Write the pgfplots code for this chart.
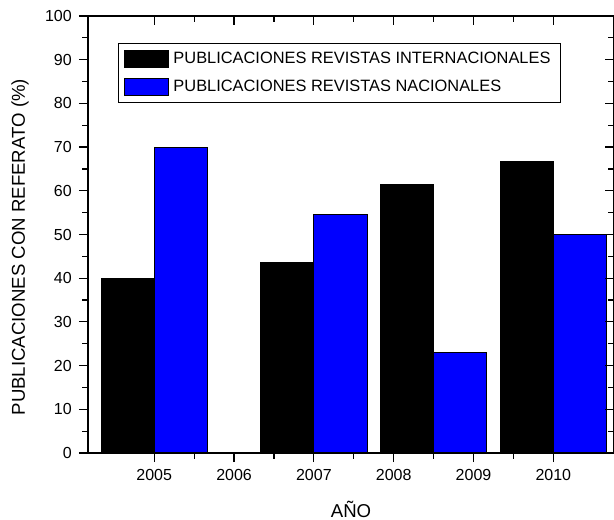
\documentclass[border=0pt]{standalone}
\usepackage{pgfplots}
\pgfplotsset{compat=1.18}
\usepackage{fontspec}
\setmainfont{Liberation Sans}

\pgfplotsset{
  frame/.style={
    scale only axis, width=263pt, height=218.5pt,
    xmin=2004.17, xmax=2010.76, ymin=0, ymax=100,
    xtick={2005,2006,2007,2008,2009,2010}, minor x tick num=1,
    ytick={0,10,...,100}, minor y tick num=1,
    axis line style={line width=0.6pt},
    every tick/.style={black, line width=0.6pt},
    major tick length=4.6pt, minor tick length=3pt,
  },
}

\begin{document}
\begin{tikzpicture}
\begin{axis}[frame, name=ax,
  tick align=outside, xtick pos=left, ytick pos=left,
  xticklabels={2005,2006,2007,2008,2009,2010},
  /pgf/number format/assume math mode=true,
  tick label style={font=\fontsize{8}{9.6}\selectfont},
  label style={font=\fontsize{9.3}{11}\selectfont},
  xlabel={AÑO},
  ylabel={PUBLICACIONES CON REFERATO (\%)},
  xlabel style={at={(axis description cs:0.5,-0.13)}, anchor=center},
  ylabel style={at={(axis description cs:-0.129,0.471)}, anchor=center},
  legend style={at={(axis description cs:0.057,0.938)}, anchor=north west,
    draw=black, line width=0.5pt, font=\fontsize{8.2}{10}\selectfont,
    inner xsep=3pt, inner ysep=2pt, row sep=3pt},
  legend cell align=left,
  legend image code/.code={\draw[#1] (0pt,-4.25pt) rectangle (22pt,4.25pt);},
]
\addplot[ybar, bar width=0.6667, bar shift=0pt, fill=black, draw=black, line width=0.5pt]
  coordinates {(2004.667,40) (2006.667,43.5) (2008.167,61.5) (2009.667,66.7)};
\addlegendentry{PUBLICACIONES REVISTAS INTERNACIONALES}
\addplot[ybar, bar width=0.6667, bar shift=0pt, fill=blue, draw=black, line width=0.5pt]
  coordinates {(2005.333,70) (2007.333,54.5) (2008.833,23.1) (2010.333,50)};
\addlegendentry{PUBLICACIONES REVISTAS NACIONALES}
\end{axis}
\begin{axis}[frame,
  tick align=inside, xtick pos=right, ytick pos=right,
  xticklabels={}, yticklabels={},
]
\end{axis}
\pgfresetboundingbox
\path ([xshift=-44pt,yshift=-33.5pt]ax.south west) rectangle ([yshift=8pt]ax.north east);
\end{tikzpicture}
\end{document}
